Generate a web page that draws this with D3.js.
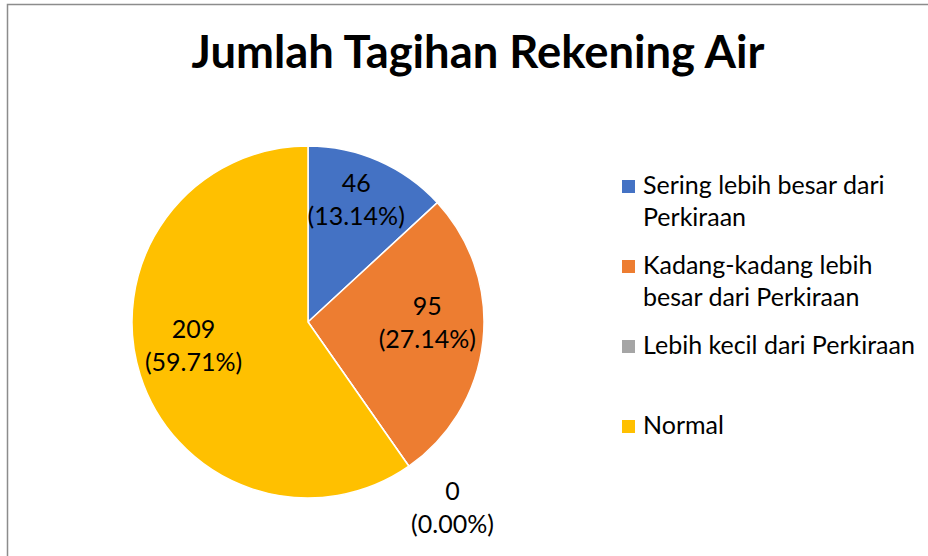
<!DOCTYPE html>
<html>
<head>
<meta charset="utf-8">
<script src="https://cdn.jsdelivr.net/npm/d3@7"></script>
<style>
  body { margin: 0; background: #fff; }
  svg { display: block; font-family: Lato, "Open Sans", sans-serif; }
</style>
</head>
<body>
<svg id="chart" width="928" height="556"></svg>
<script>
const title = "Jumlah Tagihan Rekening Air";
const categories = [
  ["Sering lebih besar dari", "Perkiraan"],
  ["Kadang-kadang lebih", "besar dari Perkiraan"],
  ["Lebih kecil dari Perkiraan"],
  ["Normal"],
];
const values = [46, 95, 0, 209];
const colors = ["#4472C4", "#ED7D31", "#A5A5A5", "#FFC000"];

const width = 928, height = 556;
const cx = 308, cy = 322, radius = 176;

const svg = d3.select("#chart");

// chart frame (only top + left edges are inside the picture)
svg.append("rect")
  .attr("x", 7.5).attr("y", 4.5)
  .attr("width", width).attr("height", height)
  .attr("fill", "none")
  .attr("stroke", "#8c8c8c")
  .attr("stroke-width", 1.5);

// title, sized to the reference width
const titleText = svg.append("text")
  .attr("x", 478).attr("y", 68)
  .attr("text-anchor", "middle")
  .attr("font-weight", 700)
  .attr("font-size", 42)
  .attr("fill", "#000")
  .text(title);
const tw = titleText.node().getComputedTextLength();
titleText.attr("font-size", 42 * 573 / tw);

const total = d3.sum(values);
const pie = d3.pie().sort(null).value((d) => d.value);
const arcs = pie(values.map((v, i) => ({ value: v, i })));

const arc = d3.arc().innerRadius(0).outerRadius(radius);
const labelArc = d3.arc().innerRadius(120).outerRadius(120);

const g = svg.append("g").attr("transform", `translate(${cx},${cy})`);

g.selectAll("path.slice")
  .data(arcs)
  .join("path")
  .attr("class", "slice")
  .attr("d", arc)
  .attr("fill", (d) => colors[d.data.i])
  .attr("stroke", "#fff")
  .attr("stroke-width", 1.5)
  .attr("stroke-linejoin", "round");

const labelSize = 25;
const lineGap = 33;
const fmt = d3.format(".2%");

const labels = g.selectAll("text.label")
  .data(arcs)
  .join("text")
  .attr("class", "label")
  .attr("font-size", labelSize)
  .attr("fill", "#000")
  .attr("text-anchor", "middle");

labels.each(function (d) {
  const t = d3.select(this);
  const lines = [String(d.data.value), `(${fmt(d.data.value / total)})`];
  let x, yTop;
  if (d.data.value > 0) {
    const [px, py] = labelArc.centroid(d);
    x = px;
    yTop = py - 12 - lineGap / 2; // block centre -> first line centre
  } else {
    // outside label, box attached to the arc point
    const a = (d.startAngle + d.endAngle) / 2;
    const r = radius + 8;
    const px = Math.sin(a) * r, py = -Math.cos(a) * r;
    x = px + (Math.sin(a) >= 0 ? 39 : -39);
    yTop = py + (Math.cos(a) <= 0 ? 18 : -lineGap * 2 + 18);
  }
  lines.forEach((s, k) => {
    t.append("tspan")
      .attr("x", x)
      .attr("y", yTop + k * lineGap)
      .attr("dy", "0.35em")
      .text(s);
  });
});

// legend
const legendX = 622, legendY = 180, legendStep = 80;
const legend = svg.append("g")
  .selectAll("g")
  .data(categories)
  .join("g")
  .attr("transform", (d, i) => `translate(${legendX},${legendY + i * legendStep})`);

legend.append("rect")
  .attr("width", 13).attr("height", 13)
  .attr("fill", (d, i) => colors[i]);

legend.append("text")
  .attr("font-size", 25)
  .attr("fill", "#000")
  .selectAll("tspan")
  .data((d) => d)
  .join("tspan")
  .attr("x", 21)
  .attr("y", (d, k) => 14 + k * 32)
  .text((d) => d);
</script>
</body>
</html>
